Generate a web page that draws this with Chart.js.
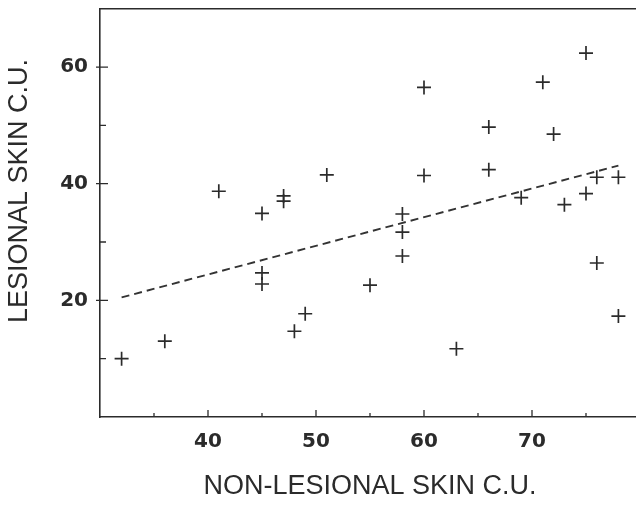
<!DOCTYPE html>
<html>
<head>
<meta charset="utf-8">
<script src="https://cdn.jsdelivr.net/npm/chart.js@4.4.1/dist/chart.umd.min.js"></script>
<style>
  html, body { margin: 0; padding: 0; background: #fff; overflow: hidden; }
  #wrap { width: 650px; height: 506px; }
</style>
</head>
<body>
<div id="wrap"><canvas id="skinchart"></canvas></div>
<script>
// values (C.U. per patient)
const nonLesional = [32, 36, 41, 45, 45, 45, 47, 47, 48, 49, 51, 55, 58, 58, 58,
                     60, 60, 63, 66, 66, 69, 71, 72, 73, 75, 75, 76, 76, 78, 78];
const lesional    = [10.0, 13.0, 38.7, 34.9, 24.7, 22.8, 37.9, 37.0, 14.7, 17.7, 41.5, 22.6, 34.8, 31.7, 27.6,
                     56.5, 41.4, 11.7, 49.7, 42.4, 37.6, 57.4, 48.5, 36.4, 62.4, 38.3, 41.1, 26.4, 41.1, 17.3];

// regression line end points
const fitX = [32, 78];
const fitY = [20.5, 43.1];

// axis ticks
const xLabels = [40, 50, 60, 70];
const xMinor = [35, 45, 55, 65, 75];
const yLabels = [20, 40, 60];
const yMinor = [10, 30, 50];

const ink = '#2b2b2b';
const tickFont = {family: 'DejaVu Sans', weight: 'bold', size: 20};

// top frame line, inward tick marks and the two axis titles
const frameAndTitles = {
    id: 'frameAndTitles',
    beforeDatasetsDraw(chart) {
        const c = chart.ctx, a = chart.chartArea;
        const xs = chart.scales.x, ys = chart.scales.y;
        c.save();
        c.strokeStyle = ink;
        c.lineWidth = 1.6;
        c.beginPath();
        c.moveTo(a.left, a.top);
        c.lineTo(a.right, a.top);
        c.stroke();
        c.lineWidth = 1.3;
        c.beginPath();
        xLabels.forEach(v => { const p = xs.getPixelForValue(v); c.moveTo(p, a.bottom); c.lineTo(p, a.bottom - 7); });
        xMinor.forEach(v => { const p = xs.getPixelForValue(v); c.moveTo(p, a.bottom); c.lineTo(p, a.bottom - 4); });
        yLabels.forEach(v => { const p = ys.getPixelForValue(v); c.moveTo(a.left - 4, p); c.lineTo(a.left + 8, p); });
        yMinor.forEach(v => { const p = ys.getPixelForValue(v); c.moveTo(a.left, p); c.lineTo(a.left + 6, p); });
        c.stroke();
        c.restore();
    },
    afterDraw(chart) {
        const c = chart.ctx, a = chart.chartArea;
        c.save();
        c.fillStyle = ink;
        c.font = '27px "Liberation Sans"';
        c.textAlign = 'center';
        c.textBaseline = 'middle';
        c.fillText('NON-LESIONAL SKIN C.U.', (a.left + a.right) / 2, 487);
        c.translate(20, 191);
        c.rotate(-Math.PI / 2);
        c.fillText('LESIONAL SKIN C.U.', 0, 0);
        c.restore();
    }
};

const ctx = document.getElementById('skinchart').getContext('2d');

new Chart(ctx, {
    data: {
        datasets: [
            {
                type: 'scatter',
                data: nonLesional.map((x, i) => ({x: x, y: lesional[i]})),
                pointStyle: 'cross',
                pointRadius: 7,
                borderColor: ink,
                borderWidth: 1.7
            },
            {
                type: 'line',
                data: fitX.map((x, i) => ({x: x, y: fitY[i]})),
                borderColor: '#333',
                borderWidth: 1.9,
                borderDash: [8, 5],
                pointRadius: 0,
                fill: false
            }
        ]
    },
    options: {
        responsive: true,
        maintainAspectRatio: false,
        animation: false,
        layout: {padding: {top: 8, right: 10, left: 0, bottom: 0}},
        plugins: {
            legend: {display: false},
            tooltip: {enabled: false}
        },
        scales: {
            x: {
                type: 'linear',
                min: 30,
                max: 80,
                grid: {display: false},
                border: {display: true, color: ink, width: 1.6},
                afterBuildTicks: s => { s.ticks = xLabels.map(v => ({value: v})); },
                afterFit: s => { s.height = 89; s.paddingLeft = 0; s.paddingRight = 0; },
                ticks: {font: tickFont, color: ink, padding: 5, maxRotation: 0, autoSkip: false}
            },
            y: {
                type: 'linear',
                min: 0,
                max: 70,
                grid: {display: false},
                border: {display: true, color: ink, width: 1.6},
                afterBuildTicks: s => { s.ticks = yLabels.map(v => ({value: v})); },
                afterFit: s => { s.width = 100; s.paddingTop = 0; s.paddingBottom = 0; },
                ticks: {font: tickFont, color: ink, padding: 4, autoSkip: false}
            }
        }
    },
    plugins: [frameAndTitles]
});
</script>
</body>
</html>
